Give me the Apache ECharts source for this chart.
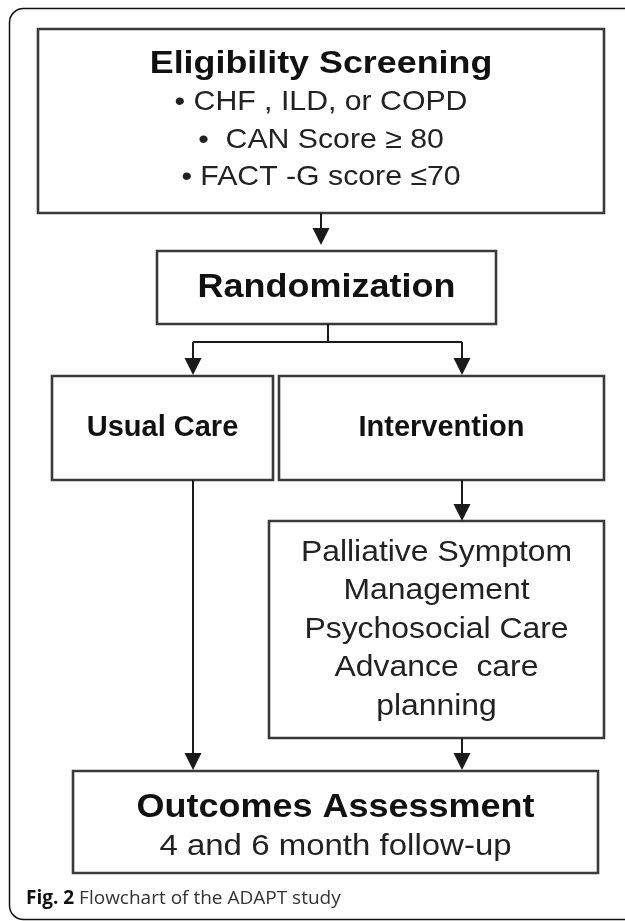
<!DOCTYPE html>
<html>
<head>
<meta charset="utf-8">
<title>Flowchart of the ADAPT study</title>
<script src="https://cdn.jsdelivr.net/npm/echarts@6/dist/echarts.min.js"></script>
<style>
html, body { margin: 0; padding: 0; background: #fff; }
#main { width: 625px; height: 921px; }
</style>
</head>
<body>
<div id="main"></div>
<script>
// box headings and text lines
var boxTitles = ['Eligibility Screening', 'Randomization', 'Usual Care', 'Intervention', '', 'Outcomes Assessment'];
var boxLines = [
    ['\u2022 CHF , ILD, or COPD', '\u2022  CAN Score \u2265 80', '\u2022 FACT -G score \u226470'],
    [],
    [],
    [],
    ['Palliative Symptom', 'Management', 'Psychosocial Care', 'Advance  care', 'planning'],
    ['4 and 6 month follow-up']
];
// box corners (page units)
var boxLeft = [38, 157, 52, 279, 269, 73];
var boxTop = [29, 251, 376, 376, 521, 771];
var boxRight = [604, 496, 273, 604, 604, 598];
var boxBottom = [213, 324, 480, 480, 738, 873];
// connectors without head
var plainFrom = [[328, 324], [193, 342]];
var plainTo = [[328, 342], [462, 342]];
// connectors with arrow head, "to" is the tip
var arrowFrom = [[321, 213], [193, 342], [462, 342], [193, 480], [462, 480], [462, 738]];
var arrowTo = [[321, 245], [193, 375], [462, 375], [193, 770], [462, 521], [462, 770]];

var headSize = [32, 33, 29, 29, 0, 33];
var headScale = [1.12, 1.09, 1.0, 1.0, 1, 1.09];
var bodySize = [28, 0, 0, 0, 29, 30];
var bodyScale = [1.08, 1, 1, 1, 1.1, 1.1];
var lineGap = [37.7, 0, 0, 0, 38.5, 39];
var boxShift = [0, 0, 0, 0, 0, 5];
var ARROW = 17;

function boxData() {
    var out = [];
    for (var i = 0; i < boxLeft.length; i++) {
        out.push([boxLeft[i], boxTop[i], boxRight[i], boxBottom[i], i]);
    }
    return out;
}

function renderBox(params, api) {
    var i = api.value(4);
    var p0 = api.coord([api.value(0), api.value(1)]);
    var p1 = api.coord([api.value(2), api.value(3)]);
    var children = [{
        type: 'rect',
        shape: {x: p0[0], y: p0[1], width: p1[0] - p0[0], height: p1[1] - p0[1]},
        style: {fill: '#fff', stroke: '#3a3a3a', lineWidth: 2.6}
    }];
    var rows = [];
    if (boxTitles[i]) {
        rows.push({t: boxTitles[i], size: headSize[i], bold: true, sx: headScale[i]});
    }
    for (var k = 0; k < boxLines[i].length; k++) {
        rows.push({t: boxLines[i][k], size: bodySize[i], bold: false, sx: bodyScale[i]});
    }
    var cx = (p0[0] + p1[0]) / 2;
    var cy = (p0[1] + p1[1]) / 2 + boxShift[i];
    for (var r = 0; r < rows.length; r++) {
        children.push({
            type: 'text',
            x: cx,
            y: cy + (r - (rows.length - 1) / 2) * lineGap[i],
            scaleX: rows[r].sx,
            style: {
                text: rows[r].t,
                x: 0,
                y: 0,
                align: 'center',
                verticalAlign: 'middle',
                fontFamily: 'Liberation Sans',
                fontSize: rows[r].size,
                fontWeight: rows[r].bold ? 'bold' : 'normal',
                fill: rows[r].bold ? '#111' : '#222'
            }
        });
    }
    return {type: 'group', children: children};
}

function segs(from, to, head) {
    var out = [];
    for (var i = 0; i < from.length; i++) {
        var a = from[i], b = to[i];
        var dx = b[0] - a[0], dy = b[1] - a[1];
        var len = Math.sqrt(dx * dx + dy * dy);
        var cut = head ? ARROW / 2 : 0;
        out.push({coords: [a, [b[0] - dx / len * cut, b[1] - dy / len * cut]]});
    }
    return out;
}

var myChart = echarts.init(document.getElementById('main'), null, {renderer: 'canvas'});
var option = {
    backgroundColor: '#fff',
    animation: false,
    title: {
        text: '{b|Fig. 2} Flowchart of the ADAPT study',
        left: 26,
        top: 889,
        padding: 0,
        textStyle: {
            fontFamily: 'Open Sans',
            fontSize: 19,
            fontWeight: 'normal',
            color: '#333',
            rich: {
                b: {fontFamily: 'Open Sans', fontSize: 19, fontWeight: 'bold', color: '#111'}
            }
        }
    },
    graphic: [{
        type: 'rect',
        z: -10,
        shape: {x: 9.5, y: 8.5, width: 640, height: 911, r: 14},
        style: {fill: null, stroke: '#111', lineWidth: 1.5}
    }],
    grid: {left: 0, right: 0, top: 0, bottom: 0},
    xAxis: {type: 'value', min: 0, max: 625, show: false},
    yAxis: {type: 'value', min: 0, max: 921, inverse: true, show: false},
    series: [{
        type: 'custom',
        renderItem: renderBox,
        data: boxData(),
        z: 2
    }, {
        type: 'lines',
        coordinateSystem: 'cartesian2d',
        symbol: ['none', 'none'],
        lineStyle: {color: '#1a1a1a', width: 2, opacity: 1},
        data: segs(plainFrom, plainTo, false),
        z: 3
    }, {
        type: 'lines',
        coordinateSystem: 'cartesian2d',
        symbol: ['none', 'triangle'],
        symbolSize: ARROW,
        lineStyle: {color: '#1a1a1a', width: 2, opacity: 1},
        data: segs(arrowFrom, arrowTo, true),
        z: 3
    }]
};
myChart.setOption(option);
</script>
</body>
</html>
